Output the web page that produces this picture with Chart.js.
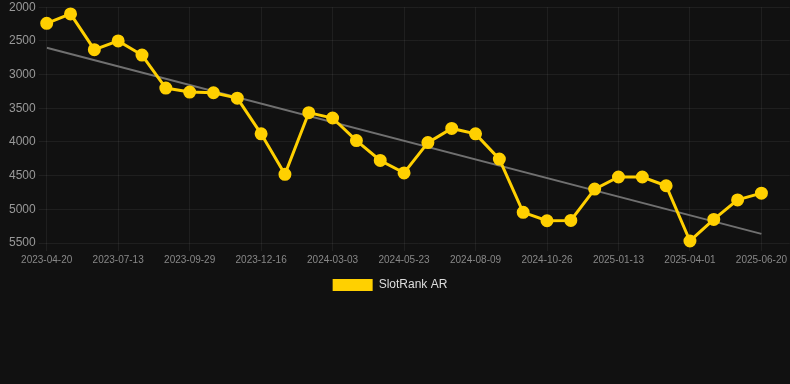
<!DOCTYPE html>
<html>
<head>
<meta charset="utf-8">
<script src="https://cdn.jsdelivr.net/npm/chart.js@4"></script>
<style>
  html, body { margin: 0; padding: 0; background: #111111; }
  #wrap { width: 790px; height: 301px; position: relative; }
</style>
</head>
<body>
<div id="wrap"><canvas id="c"></canvas></div>
<script>
const dates = [
  "2023-04-20","2023-05-16","2023-06-14","2023-07-13","2023-08-08","2023-09-03",
  "2023-09-29","2023-10-25","2023-11-20","2023-12-16","2024-01-11","2024-02-06",
  "2024-03-03","2024-03-30","2024-04-26","2024-05-23","2024-06-18","2024-07-14",
  "2024-08-09","2024-09-04","2024-09-30","2024-10-26","2024-11-21","2024-12-18",
  "2025-01-13","2025-02-08","2025-03-06","2025-04-01","2025-04-27","2025-05-24",
  "2025-06-20"
];
const rankValues = [
  2240, 2100, 2630, 2500, 2710, 3200, 3260, 3270, 3350, 3880, 4480,
  3565, 3645, 3980, 4275, 4460, 4010, 3800, 3880, 4255, 5045, 5170,
  5165, 4700, 4520, 4520, 4650, 5470, 5150, 4860, 4760
];
const yTicks = [2000, 2500, 3000, 3500, 4000, 4500, 5000, 5500];
const seriesName = "SlotRank AR";

// linear regression trend from the data
const n = rankValues.length;
let sx = 0, sy = 0, sxy = 0, sxx = 0;
rankValues.forEach((v, i) => { sx += i; sy += v; sxy += i * v; sxx += i * i; });
const slope = (n * sxy - sx * sy) / (n * sxx - sx * sx);
const intercept = (sy - slope * sx) / n;
const trendPoints = [{ x: 0, y: intercept }, { x: n - 1, y: intercept + slope * (n - 1) }];

const fontFam = "'Liberation Sans', Arial, sans-serif";

// nudge the legend slightly left, as in the reference
const legendShift = {
  id: 'legendShift',
  afterLayout(chart) {
    const lg = chart.legend;
    if (lg) { lg.left -= 8; lg.right -= 8; }
  }
};

new Chart(document.getElementById('c'), {
  type: 'line',
  data: {
    datasets: [
      {
        label: seriesName,
        data: rankValues.map((v, i) => ({ x: i, y: v })),
        borderColor: '#FFD000',
        backgroundColor: '#FFD000',
        borderWidth: 3,
        pointRadius: 5,
        pointHoverRadius: 5,
        pointBackgroundColor: '#FFD000',
        pointBorderColor: '#FFD000',
        tension: 0,
        clip: false,
        order: 1
      },
      {
        label: 'trend',
        data: trendPoints,
        borderColor: '#707070',
        borderWidth: 2,
        pointRadius: 0,
        fill: false,
        order: 2
      }
    ]
  },
  plugins: [legendShift],
  options: {
    responsive: true,
    maintainAspectRatio: false,
    animation: false,
    layout: { autoPadding: false, padding: { left: 6, right: 0, top: 0, bottom: 0 } },
    plugins: {
      legend: {
        position: 'bottom',
        labels: {
          color: '#dddddd',
          font: { family: fontFam, size: 12 },
          boxWidth: 40,
          boxHeight: 12,
          generateLabels: (chart) =>
            Chart.defaults.plugins.legend.labels.generateLabels(chart)
              .filter(it => it.text === seriesName)
              .map(it => Object.assign(it, { lineWidth: 0, strokeStyle: 'rgba(0,0,0,0)' }))
        }
      },
      tooltip: { enabled: false }
    },
    scales: {
      x: {
        type: 'linear',
        min: 0,
        max: 31.19,
        grid: { color: 'rgba(255,255,255,0.06)', tickLength: 8 },
        border: { display: false },
        ticks: {
          stepSize: 3,
          includeBounds: false,
          autoSkip: false,
          maxRotation: 0,
          color: '#888888',
          font: { family: fontFam, size: 10 },
          callback: (v) => (Number.isInteger(v) && dates[v] !== undefined) ? dates[v] : ''
        }
      },
      y: {
        reverse: true,
        min: yTicks[0],
        max: yTicks[yTicks.length - 1],
        grid: { color: 'rgba(255,255,255,0.06)', tickLength: 8 },
        border: { display: false },
        afterBuildTicks: (axis) => { axis.ticks = yTicks.map(v => ({ value: v })); },
        ticks: {
          color: '#999999',
          font: { family: fontFam, size: 12, lineHeight: 0.7 },
          callback: (v) => String(v)
        }
      }
    }
  }
});
</script>
</body>
</html>
